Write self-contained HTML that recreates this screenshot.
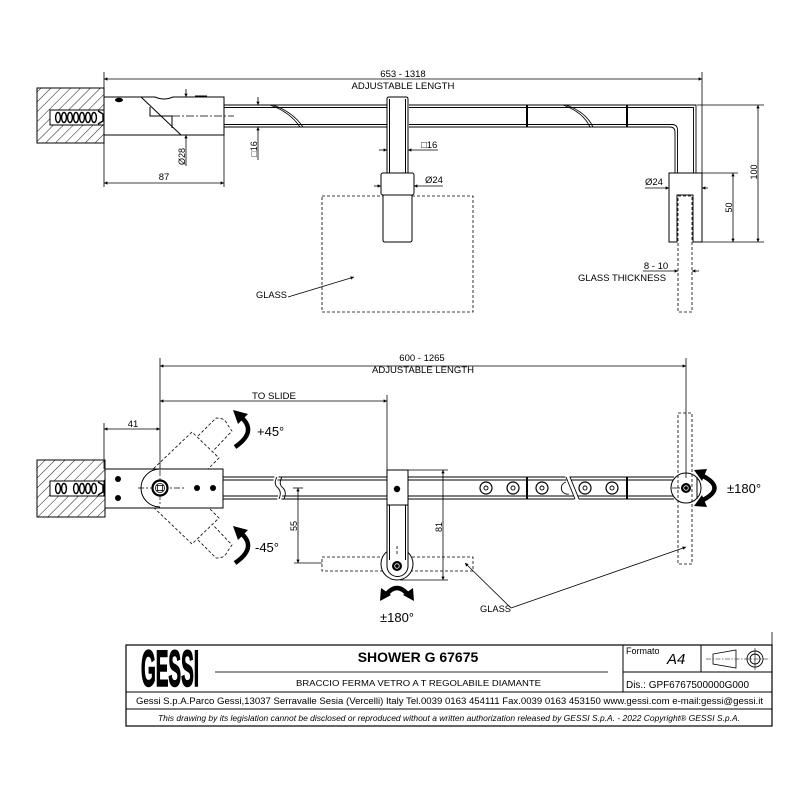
<!DOCTYPE html>
<html><head><meta charset="utf-8"><style>
html,body{margin:0;padding:0;background:#fff;}
svg{display:block;}
text{font-family:"Liberation Sans",Arial,sans-serif;fill:#000;}
</style></head><body>
<svg width="800" height="800" viewBox="0 0 800 800" xmlns="http://www.w3.org/2000/svg">
<defs>
<marker id="a" viewBox="0 0 10 10" refX="10" refY="5" markerWidth="7" markerHeight="3.4" orient="auto-start-reverse" markerUnits="userSpaceOnUse"><path d="M0,0 L10,5 L0,10 Z" fill="#000"/></marker>
<pattern id="h" width="7" height="7" patternUnits="userSpaceOnUse" patternTransform="rotate(45)"><line x1="0" y1="0" x2="0" y2="7" stroke="#000" stroke-width="0.9"/></pattern>
</defs>
<rect width="800" height="800" fill="#fff"/>

<!-- ================= TOP VIEW ================= -->
<g stroke="#000" fill="none" stroke-width="0.8">
  <line x1="104" y1="79" x2="702" y2="79" marker-start="url(#a)" marker-end="url(#a)"/>
  <line x1="104" y1="72" x2="104" y2="187"/>
  <line x1="702" y1="72" x2="702" y2="173"/>
  <line x1="104" y1="183" x2="224" y2="183" marker-start="url(#a)" marker-end="url(#a)"/>
  <line x1="224" y1="135" x2="224" y2="187"/>
  <line x1="186" y1="89" x2="186" y2="97" marker-end="url(#a)"/>
  <line x1="186" y1="166" x2="186" y2="135" marker-end="url(#a)"/>
  <line x1="186" y1="97" x2="186" y2="135"/>
  <line x1="258" y1="97" x2="258" y2="105" marker-end="url(#a)"/>
  <line x1="258" y1="160" x2="258" y2="127" marker-end="url(#a)"/>
  <line x1="697" y1="105" x2="764" y2="105"/>
  <line x1="702" y1="242" x2="764" y2="242"/>
  <line x1="702" y1="173" x2="738" y2="173"/>
  <line x1="758" y1="105" x2="758" y2="242" marker-start="url(#a)" marker-end="url(#a)"/>
  <line x1="733" y1="173" x2="733" y2="242" marker-start="url(#a)" marker-end="url(#a)"/>
  <line x1="645" y1="188" x2="669" y2="188" marker-end="url(#a)"/>
  <line x1="708" y1="188" x2="702" y2="188" marker-end="url(#a)"/>
  <line x1="669" y1="188" x2="702" y2="188"/>
  <line x1="643" y1="271" x2="678" y2="271" marker-end="url(#a)"/>
  <line x1="699" y1="271" x2="692" y2="271" marker-end="url(#a)"/>
  <line x1="379" y1="150" x2="387" y2="150" marker-end="url(#a)"/>
  <line x1="438" y1="150" x2="408" y2="150" marker-end="url(#a)"/>
  <line x1="374" y1="186" x2="381" y2="186" marker-end="url(#a)"/>
  <line x1="443" y1="186" x2="414" y2="186" marker-end="url(#a)"/>
  <line x1="288" y1="297" x2="354" y2="277" marker-end="url(#a)"/>
</g>

<rect x="37" y="88" width="67" height="55" fill="url(#h)" stroke="#000" stroke-width="1"/>
<rect x="50" y="110" width="54" height="15" fill="#fff" stroke="#000" stroke-width="1"/>
<g fill="none" stroke="#000" stroke-width="1.4">
  <ellipse cx="58" cy="117.5" rx="2.4" ry="5"/><ellipse cx="64" cy="117.5" rx="2.4" ry="5"/><ellipse cx="70" cy="117.5" rx="2.4" ry="5"/><ellipse cx="76" cy="117.5" rx="2.4" ry="5"/><ellipse cx="82" cy="117.5" rx="2.4" ry="5"/><ellipse cx="88" cy="117.5" rx="2.4" ry="5"/><ellipse cx="94" cy="117.5" rx="2.4" ry="5"/>
  <path d="M98,111 L103,114 V121 L98,124"/>
</g>

<g stroke="#000" fill="none" stroke-width="1">
  <path d="M104,97 H155 Q164,101 173,97 H224 V135 H104 Z" fill="#fff"/>
  <line x1="141" y1="97" x2="181" y2="135"/>
  <path d="M150,107 V116 H172 V128"/>
  <line x1="172" y1="116" x2="234" y2="116" stroke-width="0.7" stroke-dasharray="8,2,2,2"/>
  <line x1="195" y1="96.5" x2="207" y2="96.5" stroke-width="2"/>
</g>
<ellipse cx="119" cy="100" rx="4" ry="2.2" fill="#000"/>

<g stroke="#000" fill="none" stroke-width="0.9">
  <path d="M224,105 H387 M409,105 H696 V173"/>
  <path d="M224,107.5 H387 M409,107.5 H693.5 V173"/>
  <path d="M224,124.5 H387 M409,124.5 H672 Q677.5,124.5 677.5,130 V173"/>
  <path d="M224,127 H387 M409,127 H670 Q675,127 675,132 V173"/>
  <path d="M270,105 Q290,112 300,127"/>
  <path d="M273,105 Q293,112 303,127"/>
  <path d="M563,105 Q583,112 590,127"/>
  <path d="M566,105 Q586,112 593,127"/>
  <line x1="527" y1="105" x2="527" y2="127" stroke-width="2"/>
  <line x1="627" y1="105" x2="627" y2="127" stroke-width="2"/>
</g>

<rect x="322" y="196" width="151" height="116" fill="none" stroke="#000" stroke-width="0.8" stroke-dasharray="3,2"/>
<g stroke="#000" stroke-width="1" fill="#fff">
  <path d="M387,173 V99 Q387,97 389,97 H406 Q408,97 408,99 V173"/>
  <line x1="389.5" y1="99" x2="389.5" y2="173"/>
  <line x1="405.5" y1="99" x2="405.5" y2="173"/>
  <rect x="381" y="173" width="33" height="22" rx="2"/>
  <path d="M383,195 V240 Q383,242 385,242 H410 Q412,242 412,240 V195 Z"/>
</g>
<rect x="678" y="196" width="14" height="116" fill="none" stroke="#000" stroke-width="0.8" stroke-dasharray="3,2"/>
<path d="M669,173 H702 V242 H693 V195 H677 V242 H669 Z" fill="#fff" stroke="#000" stroke-width="1"/>

<text x="403" y="77" font-size="9.5" text-anchor="middle">653 - 1318</text>
<text x="403" y="89" font-size="9.3" text-anchor="middle" textLength="103" lengthAdjust="spacingAndGlyphs">ADJUSTABLE LENGTH</text>
<text x="164" y="180" font-size="9.5" text-anchor="middle">87</text>
<text x="185" y="156.5" font-size="9" text-anchor="middle" transform="rotate(-90 185 156.5)">Ø28</text>
<text x="257" y="149" font-size="9" text-anchor="middle" transform="rotate(-90 257 149)">□16</text>
<text x="421" y="148" font-size="9.5">□16</text>
<text x="425" y="183" font-size="9.5">Ø24</text>
<text x="645" y="185" font-size="9.5">Ø24</text>
<text x="757" y="172" font-size="9" text-anchor="middle" transform="rotate(-90 757 172)">100</text>
<text x="732" y="207.5" font-size="9" text-anchor="middle" transform="rotate(-90 732 207.5)">50</text>
<text x="656" y="269" font-size="9.5" text-anchor="middle">8 - 10</text>
<text x="578" y="281" font-size="9.3" textLength="88" lengthAdjust="spacingAndGlyphs">GLASS THICKNESS</text>
<text x="256" y="298" font-size="9" textLength="31" lengthAdjust="spacingAndGlyphs">GLASS</text>

<!-- ================= BOTTOM VIEW ================= -->
<g stroke="#000" fill="none" stroke-width="0.8">
  <line x1="160" y1="366" x2="686" y2="366" marker-start="url(#a)" marker-end="url(#a)"/>
  <line x1="160" y1="358" x2="160" y2="470"/>
  <line x1="686" y1="358" x2="686" y2="478"/>
  <line x1="160" y1="401" x2="387" y2="401" marker-start="url(#a)" marker-end="url(#a)"/>
  <line x1="387" y1="395" x2="387" y2="470"/>
  <line x1="104" y1="429" x2="160" y2="429" marker-start="url(#a)" marker-end="url(#a)"/>
  <line x1="104" y1="423" x2="104" y2="469"/>
  <line x1="408" y1="470" x2="448" y2="470"/>
  <line x1="400" y1="580" x2="448" y2="580"/>
  <line x1="443" y1="470" x2="443" y2="580" marker-start="url(#a)" marker-end="url(#a)"/>
  <line x1="293" y1="488" x2="303" y2="488"/>
  <line x1="294" y1="563" x2="322" y2="563"/>
  <line x1="298" y1="488" x2="298" y2="563" marker-start="url(#a)" marker-end="url(#a)"/>
  <line x1="511" y1="608" x2="465" y2="563" marker-end="url(#a)"/>
  <line x1="511" y1="608" x2="686" y2="547" marker-end="url(#a)"/>
</g>

<rect x="37" y="460" width="68" height="57" fill="url(#h)" stroke="#000" stroke-width="1"/>
<rect x="50" y="481" width="54" height="15" fill="#fff" stroke="#000" stroke-width="1"/>
<g fill="none" stroke="#000" stroke-width="1.4">
  <ellipse cx="58" cy="488.5" rx="2.4" ry="5"/><ellipse cx="64" cy="488.5" rx="2.4" ry="5"/><ellipse cx="76" cy="488.5" rx="2.4" ry="5"/><ellipse cx="82" cy="488.5" rx="2.4" ry="5"/><ellipse cx="88" cy="488.5" rx="2.4" ry="5"/><ellipse cx="94" cy="488.5" rx="2.4" ry="5"/>
  <path d="M98,482 L103,485 V492 L98,495"/>
</g>

<g fill="none" stroke="#000" stroke-width="0.8" stroke-dasharray="3,2">
  <path d="M150,472 L192,432 L219,458 L208,469"/>
  <path d="M198,436 L216,418 Q224,418 226,422 Q229,427 232,431 L213,451"/>
  <path d="M150,504 L192,544 L219,518 L208,507"/>
  <path d="M198,540 L216,558 Q224,558 226,554 Q229,549 232,545 L213,525"/>
</g>

<g stroke="#000" stroke-width="1" fill="#fff">
  <rect x="105" y="469" width="118" height="39"/>
  <path d="M160,469 A19,19 0 0 0 160,507" fill="none"/>
</g>
<g fill="#000">
  <circle cx="118" cy="479" r="3"/><circle cx="118" cy="498" r="3"/>
  <circle cx="197" cy="488" r="3"/><circle cx="213" cy="488" r="3"/>
</g>
<g stroke="#000" fill="none">
  <line x1="138" y1="488" x2="186" y2="488" stroke-width="0.7" stroke-dasharray="6,2,2,2"/>
  <line x1="160" y1="470" x2="160" y2="506" stroke-width="0.7" stroke-dasharray="6,2,2,2"/>
  <circle cx="160" cy="488" r="7.5" stroke-width="2.2" fill="#fff"/>
  <circle cx="160" cy="488" r="4.5" stroke-width="0.8"/>
  <rect x="157.5" y="485.5" width="5" height="5" stroke-width="0.8"/>
</g>

<g stroke="#000" fill="none" stroke-width="0.9">
  <path d="M223,477 H387 M408,477 H674"/>
  <path d="M223,480 H387 M408,480 H673"/>
  <path d="M223,496 H387 M408,496 H673"/>
  <path d="M223,499 H387 M408,499 H674"/>
  <path d="M277,476 Q273,484 278,488 Q282,492 279,500" stroke="#fff" stroke-width="4"/>
  <path d="M277,477 Q273,484 278,488 Q282,492 279,499"/>
  <path d="M282,477 Q278,484 283,488 Q287,492 284,499"/>
  <line x1="567" y1="476" x2="577" y2="500" stroke="#fff" stroke-width="4"/>
  <line x1="566" y1="477" x2="575" y2="499"/>
  <line x1="570" y1="477" x2="579" y2="499"/>
  <path d="M566,482 A6,6 0 0 0 569,494"/>
  <line x1="527" y1="477" x2="527" y2="499" stroke-width="2"/>
  <line x1="627" y1="477" x2="627" y2="499" stroke-width="2"/>
</g>
<g stroke="#000" fill="#fff" stroke-width="1.2">
  <circle cx="486" cy="488" r="6"/><circle cx="513" cy="488" r="6"/><circle cx="542" cy="488" r="6"/><circle cx="585" cy="488" r="6"/><circle cx="612" cy="488" r="6"/>
</g>
<g stroke="#000" fill="none" stroke-width="0.9">
  <circle cx="486" cy="488" r="2"/><circle cx="513" cy="488" r="2"/><circle cx="542" cy="488" r="2"/><circle cx="585" cy="488" r="2"/><circle cx="612" cy="488" r="2"/>
</g>

<rect x="678" y="413" width="14" height="151" fill="none" stroke="#000" stroke-width="0.8" stroke-dasharray="3,2"/>
<g stroke="#000" fill="none">
  <circle cx="686" cy="488" r="15" stroke-width="1"/>
  <line x1="697" y1="477" x2="697" y2="499" stroke-width="1"/>
  <line x1="672" y1="488" x2="680" y2="488" stroke-width="0.7"/>
  <circle cx="686" cy="488" r="5" fill="#000" stroke="none"/>
  <circle cx="686" cy="488" r="2.3" stroke="#fff" stroke-width="0.8"/>
</g>

<rect x="322" y="557" width="151" height="14" fill="none" stroke="#000" stroke-width="0.8" stroke-dasharray="3,2"/>
<g stroke="#000" stroke-width="1" fill="#fff">
  <circle cx="397" cy="564" r="16"/>
  <path d="M387,505 V566 A10.5,10.5 0 0 0 408,566 V505 Z"/>
  <line x1="389.5" y1="505" x2="389.5" y2="560"/>
  <line x1="405.5" y1="505" x2="405.5" y2="560"/>
  <rect x="387" y="470" width="21" height="35"/>
</g>
<line x1="397" y1="546" x2="397" y2="556" stroke="#000" stroke-width="0.8" stroke-dasharray="3,2"/>
<circle cx="397" cy="489" r="3.2" fill="#000"/>
<circle cx="397" cy="566" r="5" fill="#000"/>
<circle cx="397" cy="566" r="2.3" fill="none" stroke="#fff" stroke-width="0.8"/>

<g stroke="#000" stroke-width="4.5" fill="none" stroke-linecap="butt">
  <path d="M235,447 Q257,432 242,418"/>
  <path d="M235,563 Q257,548 242,534"/>
  <path d="M701,475 Q728,488 701,501"/>
  <path d="M385,596 Q397,580 409,596"/>
</g>
<g fill="#000">
  <polygon points="233,410 248,414 238,424"/>
  <polygon points="233,526 248,530 238,540"/>
  <polygon points="694,470 707,469 702,481"/>
  <polygon points="694,506 707,507 702,495"/>
  <polygon points="380,601 381,588 391,595"/>
  <polygon points="414,601 413,588 403,595"/>
</g>

<text x="422" y="361" font-size="9.5" text-anchor="middle">600 - 1265</text>
<text x="423" y="373" font-size="9.3" text-anchor="middle" textLength="102" lengthAdjust="spacingAndGlyphs">ADJUSTABLE LENGTH</text>
<text x="252" y="399" font-size="9.3" textLength="44" lengthAdjust="spacingAndGlyphs">TO SLIDE</text>
<text x="133" y="427" font-size="9.5" text-anchor="middle">41</text>
<text x="257" y="436" font-size="13">+45°</text>
<text x="255" y="552" font-size="13">-45°</text>
<text x="727" y="493" font-size="13">±180°</text>
<text x="397" y="622" font-size="13" text-anchor="middle">±180°</text>
<text x="297" y="526" font-size="9" text-anchor="middle" transform="rotate(-90 297 526)">55</text>
<text x="442" y="527" font-size="9" text-anchor="middle" transform="rotate(-90 442 527)">81</text>
<text x="480" y="612" font-size="9" textLength="31" lengthAdjust="spacingAndGlyphs">GLASS</text>

<!-- ================= TITLE BLOCK ================= -->
<g stroke="#000" fill="none">
  <rect x="126" y="645" width="646" height="81" stroke-width="1.2"/>
  <line x1="772" y1="632" x2="772" y2="645" stroke-width="0.8"/>
  <line x1="126" y1="692" x2="772" y2="692" stroke-width="1"/>
  <line x1="126" y1="709" x2="772" y2="709" stroke-width="1"/>
  <line x1="623" y1="645" x2="623" y2="692" stroke-width="1"/>
  <line x1="701" y1="645" x2="701" y2="672" stroke-width="1"/>
  <line x1="623" y1="672" x2="772" y2="672" stroke-width="1"/>
  <line x1="215" y1="672" x2="608" y2="672" stroke="#555" stroke-width="1.2"/>
  <path d="M713,654 L736,650 V668 L713,664 Z" stroke-width="0.8"/>
  <line x1="706" y1="659" x2="770" y2="659" stroke-width="0.6" stroke-dasharray="5,1.5,1.5,1.5"/>
  <circle cx="755" cy="659" r="8" stroke-width="0.9"/>
  <circle cx="755" cy="659" r="5" stroke-width="0.9"/>
  <line x1="755" y1="648" x2="755" y2="670" stroke-width="0.6"/>
</g>
<text x="141" y="686" font-size="51" font-weight="bold" stroke="#000" stroke-width="1.6" textLength="58" lengthAdjust="spacingAndGlyphs">GESSI</text>
<text x="418" y="662" font-size="14" font-weight="bold" text-anchor="middle">SHOWER G 67675</text>
<text x="296" y="686" font-size="8.5" textLength="245" lengthAdjust="spacingAndGlyphs">BRACCIO FERMA VETRO A T REGOLABILE DIAMANTE</text>
<text x="626" y="654" font-size="9">Formato</text>
<text x="667" y="664" font-size="15" font-style="italic">A4</text>
<text x="626" y="688" font-size="10.5" textLength="123" lengthAdjust="spacingAndGlyphs">Dis.: GPF6767500000G000</text>
<text x="136" y="704" font-size="9" textLength="627" lengthAdjust="spacingAndGlyphs">Gessi S.p.A.Parco Gessi,13037 Serravalle Sesia (Vercelli) Italy Tel.0039 0163 454111 Fax.0039 0163 453150 www.gessi.com e-mail:gessi@gessi.it</text>
<text x="158" y="721" font-size="8" font-style="italic" textLength="582" lengthAdjust="spacingAndGlyphs">This drawing by its legislation cannot be disclosed or reproduced without a written authorization released by GESSI S.p.A. - 2022 Copyright® GESSI S.p.A.</text>
</svg>
</body></html>
